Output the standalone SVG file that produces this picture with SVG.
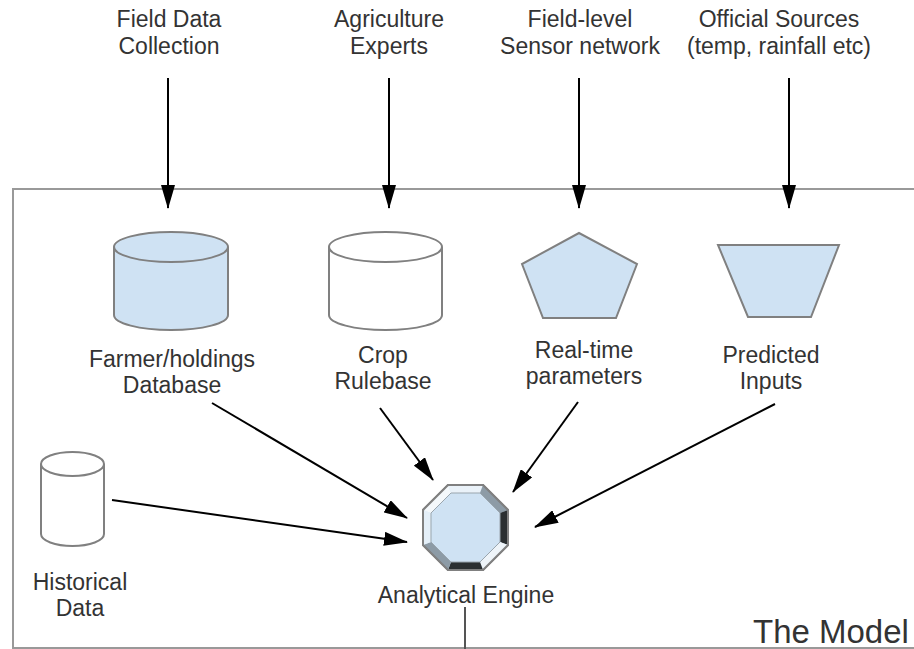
<svg xmlns="http://www.w3.org/2000/svg" width="914" height="649" viewBox="0 0 914 649">
<style>
text{font-family:"Liberation Sans",Arial,sans-serif;font-size:23px;fill:#333;text-anchor:middle}
.shape{fill:#cfe2f3;stroke:#808080;stroke-width:2}
.white{fill:#fff;stroke:#808080;stroke-width:2}
.conn line{stroke:#000;stroke-width:2;marker-end:url(#ah)}
</style>
<defs>
<marker id="ah" viewBox="0 0 24 14" refX="23" refY="7" markerWidth="24" markerHeight="14" markerUnits="userSpaceOnUse" orient="auto">
<path d="M0,0 L24,7 L0,14 z" fill="#000"/>
</marker>
</defs>
<rect x="0" y="0" width="914" height="649" fill="#fff"/>
<g id="model-box">
<rect x="13" y="189" width="1000" height="459" fill="none" stroke="#999" stroke-width="2"/>
<text x="753" y="643" style="font-size:33px;text-anchor:start">The Model</text>
</g>
<g id="src-field">
<text x="169" y="27">Field Data</text>
<text x="169" y="54">Collection</text>
</g>
<g id="src-experts">
<text x="389" y="27">Agriculture</text>
<text x="389" y="54">Experts</text>
</g>
<g id="src-sensor">
<text x="580" y="27">Field-level</text>
<text x="580" y="54">Sensor network</text>
</g>
<g id="src-official">
<text x="779" y="27">Official Sources</text>
<text x="779" y="54">(temp, rainfall etc)</text>
</g>
<g id="farmer-db">
<path class="shape" d="M114,247 L114,315 A57,15 0 0 0 228,315 L228,247"/>
<ellipse class="shape" cx="171" cy="247" rx="57" ry="15"/>
<text x="172" y="367">Farmer/holdings</text>
<text x="172" y="393">Database</text>
</g>
<g id="crop-rulebase">
<path class="white" d="M329,247 L329,315 A56.5,15 0 0 0 442,315 L442,247"/>
<ellipse class="white" cx="385.5" cy="247" rx="56.5" ry="15"/>
<text x="383" y="363">Crop</text>
<text x="383" y="389">Rulebase</text>
</g>
<g id="realtime">
<polygon class="shape" points="579,233 637,264 616,318 543,318 522,264"/>
<text x="584" y="358">Real-time</text>
<text x="584" y="384">parameters</text>
</g>
<g id="predicted">
<polygon class="shape" points="718,245 839,245 811,317 748,317"/>
<text x="771" y="363">Predicted</text>
<text x="771" y="389">Inputs</text>
</g>
<g id="historical">
<path class="white" d="M41,464 L41,534 A31.5,12 0 0 0 104,534 L104,464"/>
<ellipse class="white" cx="72.5" cy="464" rx="31.5" ry="12"/>
<text x="80" y="590">Historical</text>
<text x="80" y="616">Data</text>
</g>
<g id="engine">
<polygon points="448,485 483,485 508,510 508,545 483,570 448,570 423,545 423,510" fill="#cfe2f3" stroke="#808080" stroke-width="2"/>
<polygon points="448,485 483,485 480,493 451,493" fill="#eaf2f9"/>
<polygon points="483,485 508,510 500,513 480,493" fill="#8d9ba6"/>
<polygon points="508,510 508,545 500,542 500,513" fill="#2b2f31"/>
<polygon points="508,545 483,570 480,562 500,542" fill="#eef4f9"/>
<polygon points="483,570 448,570 451,562 480,562" fill="#2b2f31"/>
<polygon points="448,570 423,545 431,542 451,562" fill="#8d9ba6"/>
<polygon points="423,545 423,510 431,513 431,542" fill="#e4eff8"/>
<polygon points="423,510 448,485 451,493 431,513" fill="#f4f8fb"/>
<polygon points="448,485 483,485 508,510 508,545 483,570 448,570 423,545 423,510" fill="none" stroke="#808080" stroke-width="2"/>
<polygon points="451,493 480,493 500,513 500,542 480,562 451,562 431,542 431,513" fill="#cfe2f3" stroke="#9aa5ad" stroke-width="1"/>
<text x="466" y="603">Analytical Engine</text>
</g>
<g id="connectors" class="conn">
<line x1="168" y1="78" x2="168" y2="208"/>
<line x1="389" y1="78" x2="389" y2="208"/>
<line x1="579" y1="78" x2="579" y2="208"/>
<line x1="789" y1="78" x2="789" y2="208"/>
<line x1="212" y1="403" x2="407" y2="518"/>
<line x1="112" y1="500" x2="407" y2="542"/>
<line x1="380" y1="408" x2="433" y2="480"/>
<line x1="578" y1="402" x2="513" y2="492"/>
<line x1="775" y1="404" x2="535" y2="527"/>
<line x1="465" y1="607" x2="465" y2="649" style="marker-end:none;stroke:#555"/>
</g>
</svg>
